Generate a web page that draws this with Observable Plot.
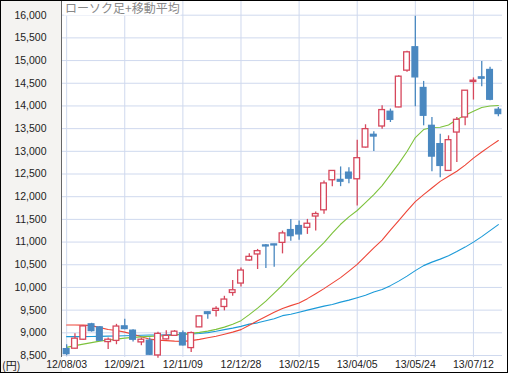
<!DOCTYPE html>
<html><head><meta charset="utf-8">
<script src="https://cdn.jsdelivr.net/npm/d3@7"></script>
<script src="https://cdn.jsdelivr.net/npm/@observablehq/plot@0.6"></script>
<style>body{margin:0;background:#fff}#chart{width:508px;height:373px}</style>
</head><body><div id="chart"></div>
<script>
const weeks = ["12/08/03","12/08/10","12/08/17","12/08/24","12/08/31","12/09/07","12/09/14","12/09/21","12/09/28","12/10/05","12/10/12","12/10/19","12/10/26","12/11/02","12/11/09","12/11/16","12/11/23","12/11/30","12/12/07","12/12/14","12/12/21","12/12/28","13/01/04","13/01/11","13/01/18","13/01/25","13/02/01","13/02/08","13/02/15","13/02/22","13/03/01","13/03/08","13/03/15","13/03/22","13/03/29","13/04/05","13/04/12","13/04/19","13/04/26","13/05/03","13/05/10","13/05/17","13/05/24","13/05/31","13/06/07","13/06/14","13/06/21","13/06/28","13/07/05","13/07/12","13/07/19","13/07/26","13/08/02"];
const open  = [8640,8650,8848,9187,9120,8796,8822,9142,9047,8789,8826,8501,8855,8933,8988,8663,9120,9452,9484,9569,9878,10086,10594,10727,10926,10948,10983,11264,11353,11315,11563,11700,12362,12370,12530,12384,13083,13364,13547,13872,13967,14778,15293,14396,13562,13158,12568,13414,13746,14528,14630,14793,13916];
const high  = [8738,8980,9160,9210,9140,8884,9187,9297,9070,8884,8884,9010,9043,9050,9040,9016,9370,9460,9572,9805,10152,10431,10740,10838,10948,10950,11242,11500,11463,11500,11662,12347,12575,12656,12640,13246,13585,13430,14004,13931,14667,15204,15978,14541,13746,13379,13341,13746,14340,14617,14977,14851,13967];
const low   = [8495,8640,8830,9015,8810,8634,8738,9065,8796,8716,8500,8442,8840,8920,8710,8568,9115,9297,9348,9484,9805,10011,10580,10396,10418,10446,10740,11020,11042,11169,11242,11611,12221,12221,12287,11795,13070,12994,13489,13635,13960,14740,13982,13562,12552,12420,12560,12751,13562,14130,14424,14115,13761];
const close = [8530,8871,9142,9038,8826,8848,9138,9083,8848,8848,8517,8977,8933,9025,8723,8994,9363,9414,9528,9733,9938,10373,10674,10800,10904,10926,11191,11131,11169,11404,11618,12292,12568,12331,12398,12849,13489,13326,13909,13695,14645,15182,14630,13784,12884,12678,13246,13695,14336,14557,14601,14137,13821];
const ma13 = [8679,8717,8750,8783,8816,8843,8860,8882,8900,8911,8922,8931,8937,8953,8970,8988,9010,9037,9076,9125,9187,9268,9400,9544,9698,9877,10051,10249,10437,10622,10805,10988,11195,11392,11555,11696,11870,12046,12245,12487,12730,12995,13303,13480,13524,13530,13579,13700,13795,13883,13965,13998,14009];
const ma26 = [9173,9173,9169,9158,9114,9074,9052,9015,8970,8915,8860,8838,8827,8816,8812,8827,8856,8893,8926,8970,9015,9070,9169,9268,9361,9451,9537,9599,9658,9753,9863,9974,10095,10216,10360,10510,10690,10871,11043,11264,11473,11687,11892,12046,12192,12337,12452,12562,12697,12851,12984,13114,13237];
const ma52 = [8915,8915,8915,8920,8922,8926,8931,8937,8942,8946,8951,8953,8955,8960,8964,8973,8984,9004,9034,9070,9103,9142,9191,9220,9268,9312,9378,9411,9455,9500,9544,9588,9625,9676,9720,9775,9830,9901,9956,10040,10139,10249,10371,10481,10558,10624,10701,10790,10889,10999,11120,11253,11385];
const tickLabels = ["12/08/03","12/09/21","12/11/09","12/12/28","13/02/15","13/04/05","13/05/24","13/07/12"];
const yTicks = [8500,9000,9500,10000,10500,11000,11500,12000,12500,13000,13500,14000,14500,15000,15500,16000];
const title = "ローソク足+移動平均";
const unit = "(円)";

const data = weeks.map((w, i) => ({week: w, open: open[i], high: high[i], low: low[i], close: close[i], ma13: ma13[i], ma26: ma26[i], ma52: ma52[i]}));
const UP = "#d6475c", DOWN = "#4a88c0", GRID = "#cfd9ee";
const isUp = d => d.close >= d.open;

const chart = Plot.plot({
  width: 508, height: 373,
  marginLeft: 62, marginRight: 6, marginTop: 1, marginBottom: 16,
  style: {fontFamily: "'Liberation Sans', Arial, sans-serif", fontSize: "10.5px", color: "#222", background: "transparent"},
  x: {type: "band", domain: weeks, padding: 0, round: false, axis: null, label: null},
  y: {domain: [8456, 16302], axis: null, label: null},
  marks: [
    Plot.gridY(yTicks, {stroke: GRID, strokeOpacity: 1}),
    Plot.gridX(tickLabels, {stroke: GRID, strokeOpacity: 1}),
    Plot.axisY(yTicks, {tickSize: 0, tickPadding: 16, tickFormat: d3.format(","), fill: "#222", label: null}),
    Plot.axisX(tickLabels, {tickSize: 0, tickPadding: 3, fill: "#222", label: null}),
    Plot.lineY(data, {x: "week", y: "ma52", stroke: "#1b9ad8", strokeWidth: 1.1}),
    Plot.lineY(data, {x: "week", y: "ma26", stroke: "#ee4638", strokeWidth: 1.1}),
    Plot.lineY(data, {x: "week", y: "ma13", stroke: "#7dc23c", strokeWidth: 1.1}),
    Plot.ruleX(data, {x: "week", y1: "low", y2: "high", stroke: d => isUp(d) ? UP : DOWN, strokeWidth: 1.3}),
    Plot.barY(data, {x: "week", y1: "open", y2: "close", fill: d => isUp(d) ? "#fff" : DOWN, stroke: d => isUp(d) ? UP : DOWN, strokeWidth: 1.3, insetLeft: 1.3, insetRight: 1.3})
  ]
});
document.getElementById("chart").appendChild(chart);

const svg = d3.select(chart);
svg.insert("rect", ":first-child").attr("x", 0).attr("y", 0).attr("width", 62).attr("height", 373).attr("fill", "#f4f3f1");
svg.append("line").attr("x1", 61.5).attr("x2", 61.5).attr("y1", 0).attr("y2", 357).attr("stroke", "#666").attr("stroke-width", 1);
const tg = svg.append("g").attr("text-anchor", "start");
const bg = tg.append("rect").attr("fill", "#fff");
const tt = tg.append("text").attr("x", 65).attr("y", 12.5).attr("fill", "#888").attr("text-anchor", "start")
  .style("font-family", "'Noto Sans CJK JP', sans-serif").style("font-size", "12px").text(title);
const bb = tt.node().getBBox();
bg.attr("x", bb.x - 1).attr("y", 1).attr("width", bb.width + 2).attr("height", bb.y + bb.height - 1);
svg.append("text").attr("x", 2).attr("y", 370).attr("fill", "#222").attr("text-anchor", "start")
  .style("font-family", "'Noto Sans CJK JP', sans-serif").style("font-size", "11px").text(unit);
svg.append("rect").attr("x", 0.5).attr("y", 0.5).attr("width", 507).attr("height", 372).attr("fill", "none").attr("stroke", "#000");
</script></body></html>
